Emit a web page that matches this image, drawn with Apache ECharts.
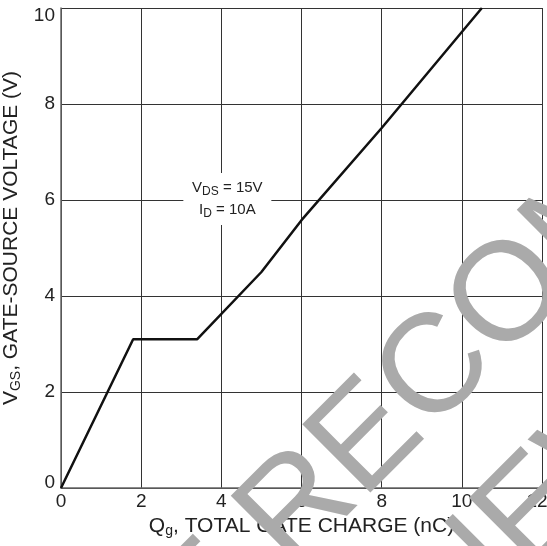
<!DOCTYPE html>
<html>
<head>
<meta charset="utf-8">
<script src="https://cdn.jsdelivr.net/npm/echarts@6/dist/echarts.min.js"></script>
<style>html,body{margin:0;padding:0;background:#fff}#c{width:547px;height:546px}</style>
</head>
<body>
<div id="c"></div>
<script>
const xTicks = [0, 2, 4, 6, 8, 10, 12];
const yTicks = [0, 2, 4, 6, 8, 10];
const qg = [0, 1.8, 3.4, 5.0, 6.0, 8.0, 10.0, 10.5];
const vgs = [0, 3.1, 3.1, 4.5, 5.58, 7.5, 9.5, 10];
const noteCoord = [4.15, 6.02];
const watermarkLines = ['NOT RECOMMENDED', 'FOR NEW DESIGNS'];

const FONT = 'Liberation Sans, Arial, sans-serif';
const WM_FONT = '140px Liberation Sans, Arial, sans-serif';
const chart = echarts.init(document.getElementById('c'), null, {renderer: 'canvas'});
chart.setOption({
  animation: false,
  backgroundColor: '#fff',
  grid: {left: 61, right: 5, top: 8, bottom: 58, containLabel: false, outerBoundsMode: 'none'},
  xAxis: {
    type: 'value', min: 0, max: 12, interval: 2,
    axisLine: {show: true, lineStyle: {color: '#666', width: 1.5}},
    axisTick: {show: false},
    splitLine: {show: true, lineStyle: {color: '#333', width: 1}},
    axisLabel: {color: '#222', fontSize: 19, fontFamily: FONT, margin: 4,
      formatter: v => v === 12 ? '{r|12}' : String(v),
      rich: {r: {fontSize: 19, fontFamily: FONT, color: '#222', padding: [0, 10, 0, 0]}}},
    name: '{n|Q}{s|g}{n|, TOTAL GATE CHARGE (nC)}',
    nameLocation: 'middle', nameGap: 25,
    nameTextStyle: {rich: {
      n: {fontSize: 21, fontFamily: FONT, color: '#222'},
      s: {fontSize: 14, fontFamily: FONT, color: '#222', padding: [10, 0, 0, 0]}
    }}
  },
  yAxis: {
    type: 'value', min: 0, max: 10, interval: 2,
    axisLine: {show: true, lineStyle: {color: '#666', width: 1.5}},
    axisTick: {show: false},
    splitLine: {show: true, lineStyle: {color: '#333', width: 1}},
    axisLabel: {color: '#222', fontSize: 19, fontFamily: FONT, margin: 6,
      formatter: v => v === 10 ? '{t|10}' : (v === 0 ? '{b|0}' : String(v)),
      rich: {
        t: {fontSize: 19, fontFamily: FONT, color: '#222', padding: [16, 0, 0, 0]},
        b: {fontSize: 19, fontFamily: FONT, color: '#222', padding: [0, 0, 10, 0]}
      }},
    name: '{n|V}{s|GS}{n|, GATE-SOURCE VOLTAGE (V)}',
    nameLocation: 'middle', nameGap: 33, nameRotate: 90,
    nameTextStyle: {padding: [0, 0, 0, 20], rich: {
      n: {fontSize: 21, fontFamily: FONT, color: '#222'},
      s: {fontSize: 14, fontFamily: FONT, color: '#222', padding: [10, 0, 0, 0]}
    }}
  },
  series: [{
    type: 'line',
    data: qg.map((x, i) => [x, vgs[i]]),
    showSymbol: false,
    symbol: 'none',
    lineStyle: {color: '#111', width: 2.5},
    z: 3,
    markPoint: {
      symbol: 'rect', symbolSize: [88, 52],
      itemStyle: {color: '#fff'},
      silent: true,
      data: [{coord: noteCoord}],
      label: {
        show: true, position: 'inside', lineHeight: 22,
        formatter: '{n|V}{s|DS}{n| = 15V}\n{n|I}{s|D}{n| = 10A}',
        rich: {
          n: {fontSize: 15, fontFamily: FONT, color: '#222', lineHeight: 22},
          s: {fontSize: 12, fontFamily: FONT, color: '#222', lineHeight: 22, padding: [8, 0, 0, 0]}
        }
      }
    }
  }],
  graphic: [{
    type: 'group', x: 27, y: 781, rotation: Math.PI / 4, z: 100, silent: true,
    children: [
      {type: 'text', x: 731, y: 0, z: 100,
        style: {text: watermarkLines[0], fill: '#aaaaaa', font: WM_FONT, align: 'center', verticalAlign: 'middle'}},
      {type: 'text', x: 731, y: 170, z: 100,
        style: {text: watermarkLines[1], fill: '#aaaaaa', font: WM_FONT, align: 'center', verticalAlign: 'middle'}}
    ]
  }]
});
</script>
</body>
</html>
